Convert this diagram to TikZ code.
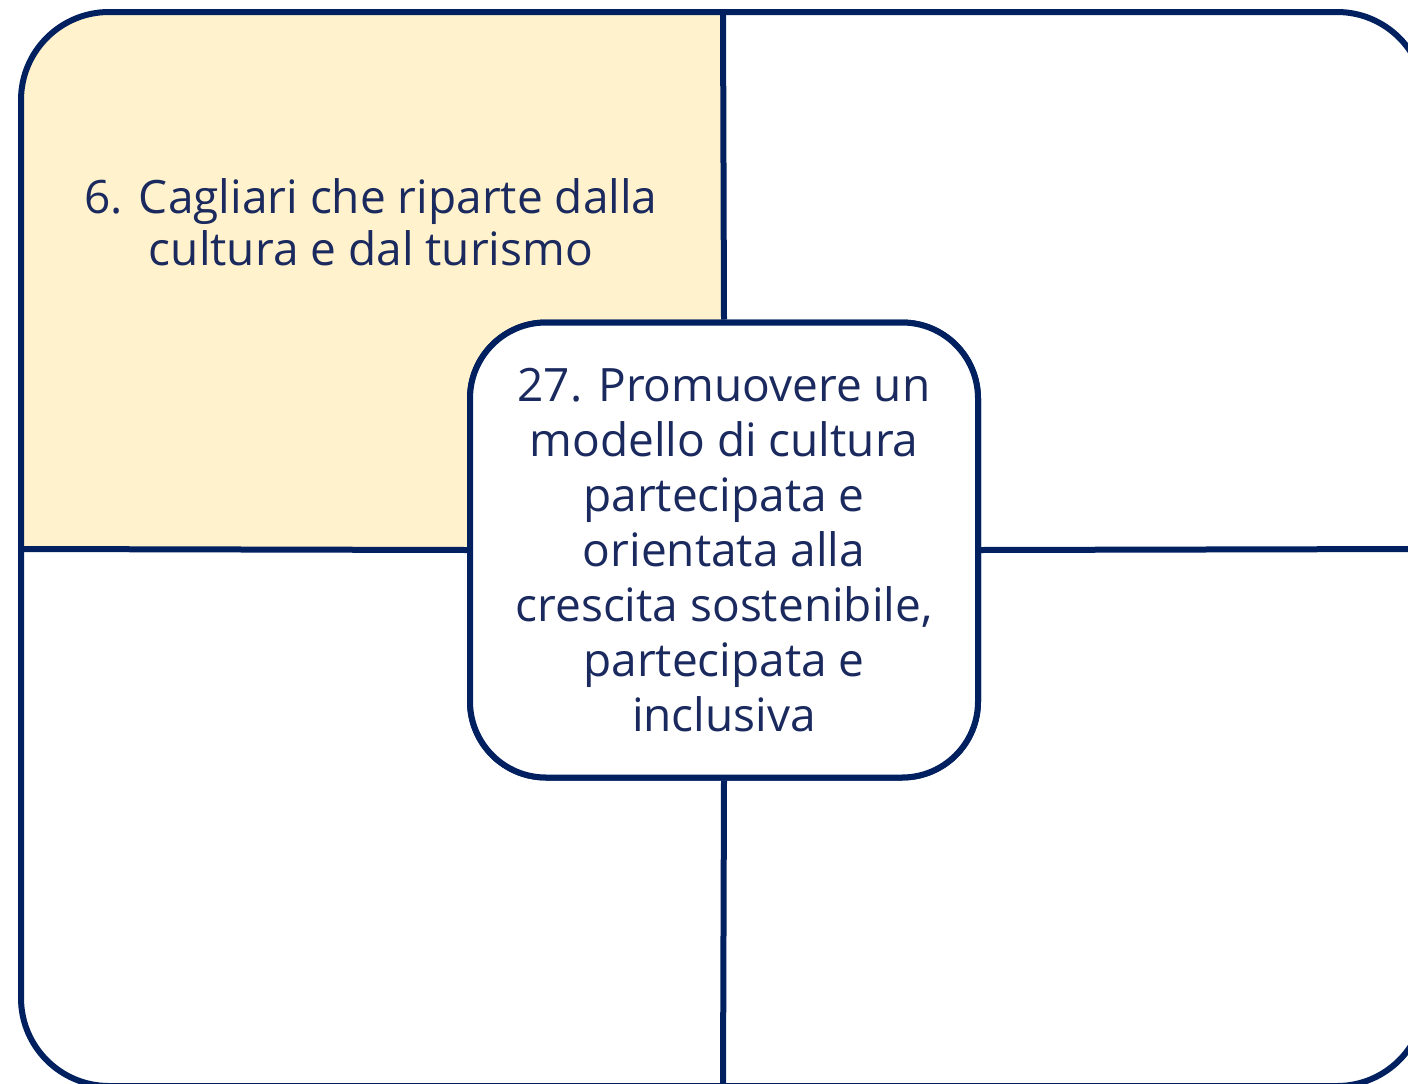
\documentclass[tikz,border=0pt]{standalone}
\usepackage{fontspec}
\setmainfont{Open Sans}
\definecolor{navy}{HTML}{002060}
\definecolor{txt}{HTML}{1B2A5E}
\definecolor{cream}{HTML}{FFF2CC}
\begin{document}
\begin{tikzpicture}[x=1pt,y=-1pt,
  border/.style={draw=navy,line width=6pt},
  label/.style={text=txt,font=\fontsize{46}{52}\selectfont,align=center,inner sep=0pt},
  centerbox/.style={border,fill=white,rounded corners=76pt,minimum width=508pt,minimum height=455pt,
     text=txt,font=\fontsize{46}{55}\selectfont,align=center,inner sep=0pt}]
\useasboundingbox (0,0) rectangle (1408,1084);
\clip (0,0) rectangle (1408,1084);
% highlighted quadrant
\begin{scope}
  \clip (0,0) rectangle (723,549);
  \fill[cream,rounded corners=88pt] (21,12) rectangle (1425,1086);
\end{scope}
% outer frame
\draw[border,rounded corners=88pt] (21,12) rectangle (1425,1086);
% divider end points on the frame
\coordinate (top) at (723,12);
\coordinate (bottom) at (723,1086);
\coordinate (left) at (21,549);
\coordinate (right) at (1425,549);
% central box
\node[centerbox] (center) at (724,550) {};
\draw[border] (top) -- (center.north);
\draw[border] (bottom) -- (center.south);
\draw[border] (left) -- (center.west);
\draw[border] (right) -- (center.east);
\node[centerbox] (centerText) at (724,550) {27. Promuovere un\\modello di cultura\\partecipata e\\orientata alla\\crescita sostenibile,\\partecipata e\\inclusiva};
% quadrant label
\node[label,anchor=base] (q1) at (371,265) {6. Cagliari che riparte dalla\\cultura e dal turismo};
\end{tikzpicture}
\end{document}
